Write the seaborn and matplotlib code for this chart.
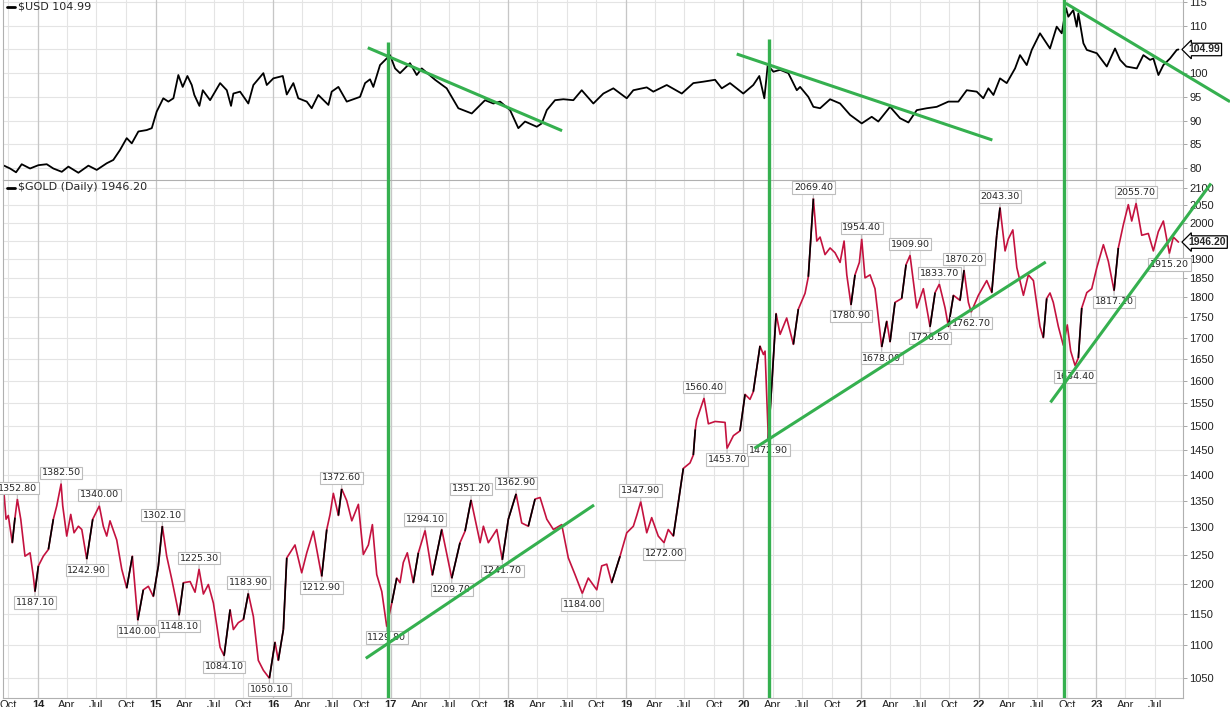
# -*- coding: utf-8 -*-

import numpy as np
import pandas as pd
import seaborn as sns
import matplotlib
matplotlib.use('Agg')
import matplotlib.pyplot as plt
from matplotlib.lines import Line2D
from matplotlib.collections import LineCollection
import matplotlib.dates as mdates


# values, time given in decimal years
usd_years = [
    2013.711, 2013.762, 2013.813, 2013.861, 2013.932, 2014.003, 2014.074, 2014.130, 2014.202, 2014.258,
    2014.343, 2014.428, 2014.499, 2014.584, 2014.640, 2014.697, 2014.754, 2014.797, 2014.853, 2014.924,
    2014.967, 2015.009, 2015.065, 2015.108, 2015.151, 2015.193, 2015.230, 2015.270, 2015.307, 2015.329,
    2015.372, 2015.401, 2015.463, 2015.548, 2015.605, 2015.641, 2015.661, 2015.718, 2015.788, 2015.831,
    2015.916, 2015.945, 2016.001, 2016.081, 2016.115, 2016.171, 2016.213, 2016.285, 2016.327, 2016.383,
    2016.469, 2016.497, 2016.554, 2016.625, 2016.738, 2016.781, 2016.823, 2016.851, 2016.908, 2016.965,
    2016.993, 2017.036, 2017.078, 2017.163, 2017.220, 2017.263, 2017.376, 2017.475, 2017.574, 2017.688,
    2017.801, 2017.872, 2017.929, 2018.014, 2018.084, 2018.141, 2018.241, 2018.283, 2018.326, 2018.396,
    2018.467, 2018.552, 2018.623, 2018.722, 2018.807, 2018.892, 2019.006, 2019.062, 2019.176, 2019.232,
    2019.346, 2019.474, 2019.572, 2019.657, 2019.757, 2019.814, 2019.884, 2019.997, 2020.082, 2020.133,
    2020.176, 2020.205, 2020.253, 2020.310, 2020.380, 2020.452, 2020.480, 2020.550, 2020.593, 2020.650,
    2020.735, 2020.820, 2020.905, 2021.004, 2021.089, 2021.145, 2021.245, 2021.330, 2021.401, 2021.472,
    2021.557, 2021.642, 2021.741, 2021.826, 2021.897, 2021.982, 2022.038, 2022.081, 2022.124, 2022.180,
    2022.237, 2022.308, 2022.350, 2022.407, 2022.450, 2022.520, 2022.605, 2022.662, 2022.705, 2022.741,
    2022.761, 2022.803, 2022.832, 2022.846, 2022.889, 2022.918, 2023.003, 2023.088, 2023.158, 2023.201,
    2023.254, 2023.343, 2023.399, 2023.456, 2023.484, 2023.527, 2023.569, 2023.626, 2023.683, 2023.697,
]
usd_values = [
    80.5, 79.9, 79.1, 80.8, 79.9, 80.6, 80.8, 79.9, 79.2, 80.3,
    79.0, 80.5, 79.6, 81.0, 81.7, 83.8, 86.3, 85.2, 87.7, 88.0,
    88.4, 91.9, 94.7, 94.0, 94.7, 99.6, 97.1, 99.4, 97.5, 95.4,
    93.1, 96.4, 94.3, 97.9, 96.4, 93.1, 95.7, 96.1, 93.6, 97.5,
    100.0, 97.5, 98.9, 99.4, 95.5, 97.9, 94.7, 94.0, 92.6, 95.4,
    93.3, 96.1, 97.1, 94.0, 95.0, 97.9, 98.7, 97.1, 101.7, 103.1,
    103.8, 101.0, 100.0, 102.1, 99.6, 101.0, 98.6, 96.8, 92.6, 91.5,
    94.3, 93.6, 94.0, 92.2, 88.4, 89.8, 88.7, 89.4, 92.2, 94.3,
    94.5, 94.3, 96.4, 93.6, 95.7, 96.8, 94.7, 96.4, 97.0, 96.1,
    97.5, 95.7, 97.9, 98.2, 98.6, 96.8, 97.9, 95.7, 97.5, 99.4,
    94.7, 101.7, 100.3, 100.7, 100.0, 96.4, 97.1, 95.0, 92.9, 92.6,
    94.5, 93.6, 91.2, 89.4, 90.8, 89.8, 92.9, 90.5, 89.6, 92.2,
    92.6, 92.9, 94.0, 94.0, 96.4, 96.1, 94.7, 96.8, 95.4, 98.9,
    97.9, 101.0, 103.8, 101.7, 104.9, 108.4, 105.2, 109.8, 108.4, 113.7,
    111.9, 113.3, 109.8, 112.6, 106.3, 104.9, 104.2, 101.4, 105.2, 102.8,
    101.4, 101.0, 103.8, 102.8, 103.1, 99.6, 101.7, 103.1, 104.9, 104.99,
]

gold_years = [
    2013.711, 2013.728, 2013.747, 2013.781, 2013.804, 2013.824, 2013.853, 2013.889, 2013.932, 2013.960,
    2013.974, 2014.003, 2014.045, 2014.088, 2014.130, 2014.159, 2014.196, 2014.210, 2014.244, 2014.278,
    2014.306, 2014.343, 2014.372, 2014.414, 2014.465, 2014.521, 2014.555, 2014.584, 2014.612, 2014.669,
    2014.712, 2014.754, 2014.802, 2014.848, 2014.895, 2014.938, 2014.980, 2015.023, 2015.057, 2015.094,
    2015.137, 2015.199, 2015.236, 2015.293, 2015.335, 2015.369, 2015.406, 2015.448, 2015.491, 2015.548,
    2015.582, 2015.633, 2015.661, 2015.703, 2015.746, 2015.788, 2015.831, 2015.873, 2015.916, 2015.967,
    2016.015, 2016.043, 2016.086, 2016.115, 2016.185, 2016.242, 2016.285, 2016.341, 2016.412, 2016.455,
    2016.483, 2016.511, 2016.554, 2016.582, 2016.625, 2016.668, 2016.724, 2016.766, 2016.809, 2016.843,
    2016.880, 2016.923, 2016.965, 2017.008, 2017.050, 2017.078, 2017.106, 2017.140, 2017.191, 2017.234,
    2017.291, 2017.353, 2017.433, 2017.518, 2017.588, 2017.631, 2017.682, 2017.759, 2017.787, 2017.829,
    2017.901, 2017.948, 2017.999, 2018.065, 2018.113, 2018.169, 2018.226, 2018.269, 2018.326, 2018.382,
    2018.453, 2018.509, 2018.566, 2018.628, 2018.679, 2018.751, 2018.793, 2018.836, 2018.878, 2018.949,
    2019.006, 2019.062, 2019.091, 2019.125, 2019.176, 2019.218, 2019.274, 2019.323, 2019.359, 2019.402,
    2019.445, 2019.487, 2019.544, 2019.572, 2019.589, 2019.601, 2019.663, 2019.700, 2019.757, 2019.842,
    2019.859, 2019.913, 2019.969, 2020.012, 2020.054, 2020.082, 2020.139, 2020.168, 2020.182, 2020.210,
    2020.239, 2020.276, 2020.310, 2020.366, 2020.423, 2020.465, 2020.522, 2020.550, 2020.593, 2020.622,
    2020.650, 2020.692, 2020.735, 2020.777, 2020.820, 2020.854, 2020.877, 2020.913, 2020.947, 2020.984,
    2021.004, 2021.032, 2021.075, 2021.117, 2021.174, 2021.217, 2021.245, 2021.287, 2021.344, 2021.381,
    2021.415, 2021.472, 2021.528, 2021.585, 2021.628, 2021.664, 2021.713, 2021.741, 2021.784, 2021.840,
    2021.874, 2021.911, 2021.935, 2021.996, 2022.067, 2022.110, 2022.152, 2022.180, 2022.223, 2022.251,
    2022.289, 2022.323, 2022.379, 2022.421, 2022.464, 2022.520, 2022.548, 2022.577, 2022.605, 2022.633,
    2022.676, 2022.718, 2022.752, 2022.781, 2022.818, 2022.846, 2022.875, 2022.918, 2022.960, 2023.003,
    2023.059, 2023.101, 2023.150, 2023.186, 2023.229, 2023.271, 2023.300, 2023.337, 2023.385, 2023.441,
    2023.484, 2023.526, 2023.569, 2023.620, 2023.654, 2023.697,
]
gold_values = [
    1363, 1315, 1322, 1272, 1318, 1352.8, 1315, 1248, 1254, 1213,
    1187.1, 1231, 1248, 1260, 1315, 1340, 1382.5, 1340, 1284, 1324,
    1290, 1302, 1296, 1242.9, 1315, 1340, 1302, 1284, 1312, 1277,
    1225, 1193, 1248, 1140, 1190, 1196, 1179, 1231, 1302.1, 1248,
    1208, 1148.1, 1202, 1204, 1186, 1225.3, 1183, 1199, 1168, 1097,
    1084.1, 1157, 1125, 1136, 1141, 1183.9, 1146, 1077, 1062, 1050.1,
    1105, 1077, 1125, 1245, 1268, 1219, 1254, 1293, 1212.9, 1296,
    1324, 1364, 1322, 1372.6, 1350, 1312, 1343, 1251, 1268, 1305,
    1216, 1187, 1129.8, 1168, 1210, 1202, 1237, 1254, 1202, 1254,
    1294.1, 1215, 1296, 1209.7, 1272, 1293, 1351.2, 1272, 1302, 1272,
    1296, 1241.7, 1315, 1362.9, 1308, 1302, 1353, 1356, 1315, 1296,
    1305, 1245, 1216, 1184, 1210, 1190, 1231, 1234, 1202, 1248,
    1290, 1302, 1322, 1347.9, 1290, 1318, 1284, 1272, 1296, 1284,
    1347, 1413, 1424, 1440, 1493, 1514, 1560.4, 1505, 1510, 1508,
    1453.7, 1480, 1490, 1569, 1558, 1575, 1680, 1660, 1668, 1472.9,
    1590, 1759, 1708, 1748, 1684, 1770, 1810, 1853, 2069.4, 1949,
    1960, 1912, 1930, 1917, 1891, 1949, 1858, 1780.9, 1858, 1891,
    1954.4, 1850, 1858, 1822, 1678, 1740, 1690, 1787, 1797, 1885,
    1909.9, 1773, 1822, 1726.5, 1812, 1833.7, 1773, 1727, 1805, 1792,
    1870.2, 1787, 1762.7, 1805, 1843, 1812, 1965, 2043.3, 1922, 1955,
    1980, 1877, 1805, 1858, 1843, 1727, 1700, 1797, 1811, 1787,
    1727, 1682, 1731, 1668, 1634.4, 1652, 1773, 1812, 1822, 1877,
    1939, 1894, 1817.1, 1930, 1995, 2052, 2005, 2055.7, 1965, 1970,
    1922, 1975, 2005, 1915.2, 1960, 1946.2,
]

# labelled highs and lows on the gold panel
peak_years = [2013.824, 2014.196, 2014.521, 2015.057, 2015.369, 2015.788, 2016.582, 2017.291, 2017.682, 2018.065,
              2019.125, 2019.663, 2020.593, 2021.004, 2021.415, 2021.664, 2021.874, 2022.180, 2023.337]
peak_values = [1352.8, 1382.5, 1340.0, 1302.1, 1225.3, 1183.9, 1372.6, 1294.1, 1351.2, 1362.9,
               1347.9, 1560.4, 2069.4, 1954.4, 1909.9, 1833.7, 1870.2, 2043.3, 2055.7]
trough_years = [2013.974, 2014.414, 2014.848, 2015.199, 2015.582, 2015.967, 2016.412, 2016.965, 2017.518, 2017.948,
                2018.628, 2019.323, 2019.859, 2020.210, 2020.913, 2021.174, 2021.585, 2021.935, 2022.818, 2023.150,
                2023.620]
trough_values = [1187.1, 1242.9, 1140.0, 1148.1, 1084.1, 1050.1, 1212.9, 1129.8, 1209.7, 1241.7,
                 1184.0, 1272.0, 1453.7, 1472.9, 1780.9, 1678.0, 1726.5, 1762.7, 1634.4, 1817.1,
                 1915.2]

# hand drawn green lines (start year, start value, end year, end value)
usd_trend = [(2016.804, 105.36, 2018.456, 87.87),
             (2019.941, 104.04, 2022.115, 85.9),
             (2022.739, 114.73, 2024.136, 93.98)]
gold_trend = [(2016.787, 1080.1, 2018.728, 1341.7),
              (2020.091, 1453.6, 2022.569, 1892.1),
              (2022.609, 1551.3, 2023.974, 2114.4)]
marker_years = [2016.976, 2020.219, 2022.727]
marker_usd_top = [106.6, 107.2, 116.0]

usd_ticks = [80, 85, 90, 95, 100, 105, 110, 115]
gold_ticks = list(range(1050, 2101, 50))
usd_last = 104.99
gold_last = 1946.20

RED = '#c4123f'
GREEN = '#35b04f'
GRID = '#e4e4e4'
YEARGRID = '#c6c6c6'
SPINE = '#b0b0b0'


def to_dates(years):
    years = np.asarray(years, dtype=float)
    return pd.Timestamp('2014-01-01') + pd.to_timedelta((years - 2014) * 365.25, unit='D')


sns.set_style('white')
plt.rcParams['font.family'] = ['DejaVu Sans']

W, H = 1230, 707
fig = plt.figure(figsize=(12.3, 7.07), dpi=100)
ax1 = fig.add_axes([3 / W, 1 - 179.5 / H, 1180 / W, 179.5 / H])
ax2 = fig.add_axes([3 / W, 1 - 697.7 / H, 1180 / W, (697.7 - 179.5) / H])

usd = pd.DataFrame({'date': to_dates(usd_years), 'value': usd_values})
gold = pd.DataFrame({'date': to_dates(gold_years), 'value': gold_values})

sns.lineplot(data=usd, x='date', y='value', ax=ax1, color='black', lw=1.3, estimator=None)
sns.lineplot(data=gold, x='date', y='value', ax=ax2, color=RED, lw=1.2, estimator=None)

# strong up moves in black, like the source chart
gx = mdates.date2num(gold['date'])
gv = np.array(gold_values)
segs = [[(gx[i], gv[i]), (gx[i + 1], gv[i + 1])]
        for i in range(len(gv) - 1) if gv[i + 1] / gv[i] - 1 > 0.035]
ax2.add_collection(LineCollection(segs, colors='black', linewidths=1.2, zorder=2.5))

xlim = to_dates([2013.702, 2023.736])
quarters = pd.date_range('2013-10-01', '2023-07-01', freq='QS-JAN')
qlabels = [d.strftime('%y') if d.month == 1 else d.strftime('%b') for d in quarters]

for ax in (ax1, ax2):
    ax.set_xlim(xlim)
    ax.set_xticks(quarters)
    ax.grid(True, color=GRID, lw=0.8)
    ax.set_axisbelow(True)
    for d in quarters[quarters.month == 1]:
        ax.axvline(d, color=YEARGRID, lw=0.9, zorder=0.8)
    ax.yaxis.tick_right()
    ax.tick_params(axis='y', length=3, width=0.6, color='#999999', pad=1.5)
    ax.tick_params(axis='x', length=0)
    for s in ax.spines.values():
        s.set_color(SPINE)
        s.set_linewidth(0.8)
    ax.set_xlabel('')
    ax.set_ylabel('')

ax1.spines['top'].set_visible(False)
ax1.spines['bottom'].set_visible(False)
ax1.tick_params(axis='x', labelbottom=False)
ax1.set_ylim(77.58, 115.42)
ax1.set_yticks(usd_ticks, ['' if t == 105 else str(t) for t in usd_ticks],
               fontsize=8, fontfamily='Liberation Sans', color='#222222')

ax2.set_yscale('log')
ax2.set_ylim(1021.6, 2126.3)
ax2.set_yticks(gold_ticks, ['' if t == 1950 else str(t) for t in gold_ticks],
               fontsize=8, fontfamily='Liberation Sans', color='#222222')
ax2.yaxis.set_minor_locator(matplotlib.ticker.NullLocator())
ax2.set_xticks(quarters, qlabels, fontsize=8, fontfamily='Liberation Sans', color='#222222')
for lbl, d in zip(ax2.get_xticklabels(), quarters):
    if d.month == 1:
        lbl.set_fontweight('bold')
ax2.tick_params(axis='x', pad=1.5)

# high / low value boxes
box = dict(boxstyle='square,pad=0.18', fc='white', ec='#bcbcbc', lw=0.8)
for yr, v in zip(peak_years, peak_values):
    ax2.annotate(f'{v:.2f}', xy=(to_dates([yr])[0], v), xytext=(0, 8), textcoords='offset points',
                 ha='center', va='center', fontsize=6.8, bbox=box, annotation_clip=False, zorder=4,
                 arrowprops=dict(arrowstyle='-', color='#bcbcbc', lw=0.8, shrinkA=0, shrinkB=0.5))
for yr, v in zip(trough_years, trough_values):
    ax2.annotate(f'{v:.2f}', xy=(to_dates([yr])[0], v), xytext=(0, -8), textcoords='offset points',
                 ha='center', va='center', fontsize=6.8, bbox=box, annotation_clip=False, zorder=4,
                 arrowprops=dict(arrowstyle='-', color='#bcbcbc', lw=0.8, shrinkA=0, shrinkB=0.5))

# green annotations
for yr, top in zip(marker_years, marker_usd_top):
    d = to_dates([yr])[0]
    ax1.vlines(d, 77.0, top, color=GREEN, lw=2.4, zorder=6)
    ax2.axvline(d, color=GREEN, lw=2.4, zorder=6)
for x0, y0, x1, y1 in usd_trend:
    ax1.plot(to_dates([x0, x1]), [y0, y1], color=GREEN, lw=2.2, clip_on=False, zorder=6,
             solid_capstyle='butt')
for x0, y0, x1, y1 in gold_trend:
    ax2.plot(to_dates([x0, x1]), [y0, y1], color=GREEN, lw=2.2, clip_on=False, zorder=6,
             solid_capstyle='butt')

# last value tags
tag = dict(boxstyle='larrow,pad=0.12', fc='white', ec='black', lw=0.9)
for ax, last in ((ax1, usd_last), (ax2, gold_last)):
    ax.annotate(f'{last:.2f}', xy=(1, last), xycoords=('axes fraction', 'data'),
                xytext=(4, 0), textcoords='offset points', ha='left', va='center', fontsize=7.5,
                fontfamily='Liberation Sans', fontweight='bold', bbox=tag,
                annotation_clip=False, zorder=10)

# panel titles
fig.text(18 / W, 1 - 6.5 / H, r'\$USD ' + f'{usd_last:.2f}', fontsize=8, va='center', ha='left')
fig.add_artist(Line2D([7 / W, 15 / W], [1 - 6.5 / H] * 2, color='black', lw=2))
fig.text(18 / W, 1 - 187.5 / H, r'\$GOLD (Daily) ' + f'{gold_last:.2f}', fontsize=8, va='center', ha='left')
fig.add_artist(Line2D([7 / W, 15 / W], [1 - 187.5 / H] * 2, color='black', lw=2))

fig.savefig('out.png', dpi=100)
